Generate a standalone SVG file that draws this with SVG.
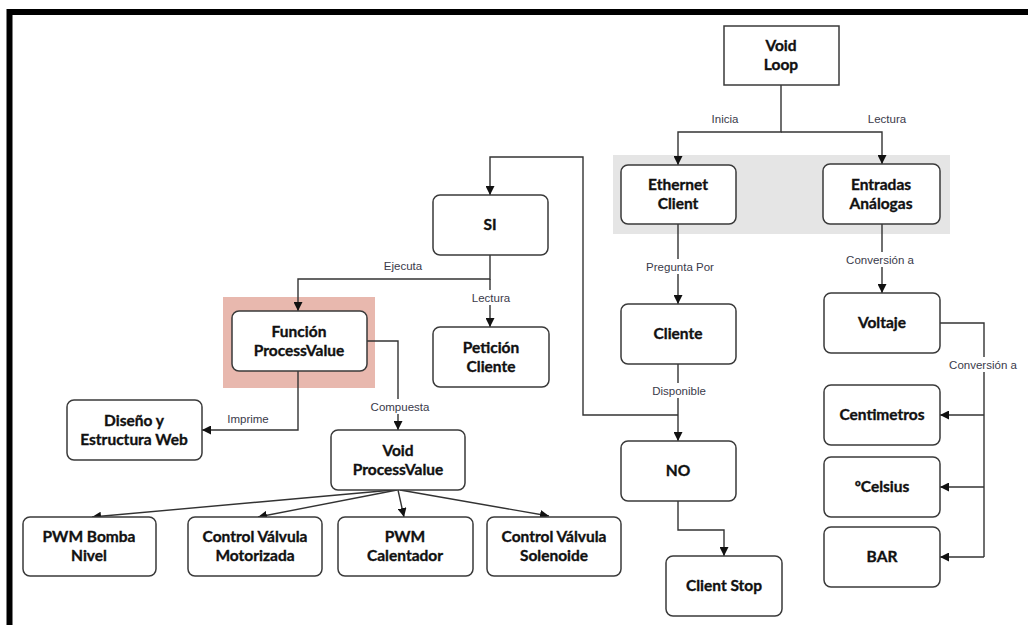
<svg xmlns="http://www.w3.org/2000/svg" width="1028" height="625" viewBox="0 0 1028 625">
  <defs>
    <marker id="arrow" markerUnits="userSpaceOnUse" markerWidth="9" markerHeight="9" viewBox="0 0 10 10" refX="10" refY="5" orient="auto">
      <path d="M0,0 L10,5 L0,10 z" fill="#111"/>
    </marker>
    <style>
      .box { fill: #fff; stroke: #3a3a3a; stroke-width: 1.5; }
      .name { font-family: Lato, "Liberation Sans", sans-serif; font-weight: bold; font-size: 15.5px; fill: #111; stroke: #111; stroke-width: 0.35; text-anchor: middle; }
      .edge { fill: none; stroke: #333; stroke-width: 1.4; }
      .arr { marker-end: url(#arrow); }
      .lbl { font-family: "Liberation Sans", Arial, sans-serif; font-size: 11.5px; fill: #3a3a4a; text-anchor: middle; }
      .lblbg { fill: #fff; }
    </style>
  </defs>

  <rect width="1028" height="625" fill="#fff"/>

  <!-- frame -->
  <path d="M9.5,640 V12 H1040" fill="none" stroke="#000" stroke-width="6"/>

  <!-- background panels -->
  <rect x="613" y="155" width="337" height="79" fill="#e5e5e5"/>
  <rect x="223" y="297" width="152" height="91" fill="#e8b8ae"/>

  <!-- connectors -->
  <g id="connectors">
    <path class="edge arr" d="M781,85 V132 H678 V165"/>
    <path class="edge arr" d="M781,132 H882 V164"/>
    <path class="edge arr" d="M678,224 V304"/>
    <path class="edge arr" d="M678,364 V441"/>
    <path class="edge arr" d="M678,415 H583 V157 H490 V195"/>
    <path class="edge arr" d="M678,501 V530 H724 V556"/>
    <path class="edge arr" d="M882,224 V293"/>
    <path class="edge" d="M940,323 H984 V557"/>
    <path class="edge arr" d="M984,415 H940"/>
    <path class="edge arr" d="M984,487 H940"/>
    <path class="edge arr" d="M984,557 H940"/>
    <path class="edge arr" d="M490,255 V279 H298 V311"/>
    <path class="edge arr" d="M490,279 V327"/>
    <path class="edge arr" d="M298,371 V430 H202"/>
    <path class="edge arr" d="M367,341 H398 V430"/>
    <path class="edge arr" d="M393,490 L92,517"/>
    <path class="edge arr" d="M397,490 L258,517"/>
    <path class="edge arr" d="M398,490 L404,517"/>
    <path class="edge arr" d="M400,490 L549,516"/>

    <!-- connector labels -->
    <text class="lbl" x="725" y="123">Inicia</text>
    <text class="lbl" x="887" y="123">Lectura</text>
    <rect class="lblbg" x="643" y="259" width="74" height="15"/>
    <text class="lbl" x="680" y="271">Pregunta Por</text>
    <rect class="lblbg" x="649" y="383" width="60" height="15"/>
    <text class="lbl" x="679" y="395">Disponible</text>
    <rect class="lblbg" x="843" y="252" width="76" height="15"/>
    <text class="lbl" x="880" y="264">Conversión a</text>
    <rect class="lblbg" x="945" y="357" width="76" height="15"/>
    <text class="lbl" x="983" y="369">Conversión a</text>
    <text class="lbl" x="403" y="270">Ejecuta</text>
    <rect class="lblbg" x="469" y="290" width="43" height="15"/>
    <text class="lbl" x="491" y="302">Lectura</text>
    <text class="lbl" x="248" y="423">Imprime</text>
    <rect class="lblbg" x="368" y="399" width="64" height="15"/>
    <text class="lbl" x="400" y="411">Compuesta</text>
  </g>

  <!-- nodes -->
  <g id="void-loop">
    <rect class="box" x="724" y="26" width="115" height="59"/>
    <text class="name" x="781" y="51">Void</text>
    <text class="name" x="781" y="70">Loop</text>
  </g>
  <g id="ethernet-client">
    <rect class="box" x="621" y="165" width="115" height="59" rx="7"/>
    <text class="name" x="678" y="190">Ethernet</text>
    <text class="name" x="678" y="209">Client</text>
  </g>
  <g id="entradas-analogas">
    <rect class="box" x="823" y="164" width="117" height="60" rx="7"/>
    <text class="name" x="881" y="190">Entradas</text>
    <text class="name" x="881" y="209">Análogas</text>
  </g>
  <g id="si">
    <rect class="box" x="433" y="195" width="115" height="60" rx="7"/>
    <text class="name" x="490" y="230">SI</text>
  </g>
  <g id="peticion-cliente">
    <rect class="box" x="433" y="327" width="116" height="60" rx="7"/>
    <text class="name" x="491" y="353">Petición</text>
    <text class="name" x="491" y="372">Cliente</text>
  </g>
  <g id="cliente">
    <rect class="box" x="621" y="304" width="115" height="60" rx="7"/>
    <text class="name" x="678" y="339">Cliente</text>
  </g>
  <g id="no">
    <rect class="box" x="621" y="441" width="115" height="60" rx="7"/>
    <text class="name" x="678" y="476">NO</text>
  </g>
  <g id="client-stop">
    <rect class="box" x="666" y="556" width="116" height="60" rx="7"/>
    <text class="name" x="724" y="591">Client Stop</text>
  </g>
  <g id="voltaje">
    <rect class="box" x="824" y="293" width="116" height="60" rx="7"/>
    <text class="name" x="882" y="328">Voltaje</text>
  </g>
  <g id="centimetros">
    <rect class="box" x="824" y="385" width="116" height="60" rx="7"/>
    <text class="name" x="882" y="420">Centimetros</text>
  </g>
  <g id="celsius">
    <rect class="box" x="824" y="457" width="116" height="60" rx="7"/>
    <text class="name" x="882" y="492">ºCelsius</text>
  </g>
  <g id="bar">
    <rect class="box" x="824" y="527" width="116" height="60" rx="7"/>
    <text class="name" x="882" y="562">BAR</text>
  </g>
  <g id="funcion-processvalue">
    <rect class="box" x="232" y="311" width="135" height="60" rx="7"/>
    <text class="name" x="299" y="337">Función</text>
    <text class="name" x="299" y="356">ProcessValue</text>
  </g>
  <g id="diseno-web">
    <rect class="box" x="67" y="400" width="135" height="60" rx="7"/>
    <text class="name" x="134" y="426">Diseño y</text>
    <text class="name" x="134" y="445">Estructura Web</text>
  </g>
  <g id="void-processvalue">
    <rect class="box" x="331" y="430" width="134" height="60" rx="7"/>
    <text class="name" x="398" y="456">Void</text>
    <text class="name" x="398" y="475">ProcessValue</text>
  </g>
  <g id="pwm-bomba">
    <rect class="box" x="23" y="517" width="133" height="59" rx="7"/>
    <text class="name" x="89" y="542">PWM Bomba</text>
    <text class="name" x="89" y="561">Nivel</text>
  </g>
  <g id="valvula-motorizada">
    <rect class="box" x="188" y="517" width="134" height="59" rx="7"/>
    <text class="name" x="255" y="542">Control Válvula</text>
    <text class="name" x="255" y="561">Motorizada</text>
  </g>
  <g id="pwm-calentador">
    <rect class="box" x="338" y="517" width="135" height="59" rx="7"/>
    <text class="name" x="405" y="542">PWM</text>
    <text class="name" x="405" y="561">Calentador</text>
  </g>
  <g id="valvula-solenoide">
    <rect class="box" x="487" y="517" width="134" height="59" rx="7"/>
    <text class="name" x="554" y="542">Control Válvula</text>
    <text class="name" x="554" y="561">Solenoide</text>
  </g>
</svg>
